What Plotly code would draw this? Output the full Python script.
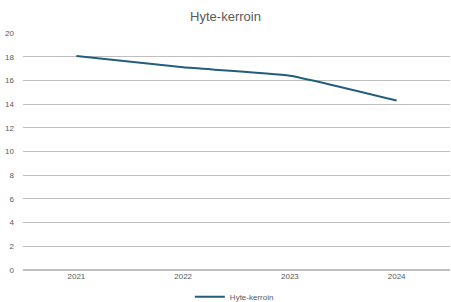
import plotly.graph_objects as go

years = ["2021", "2022", "2023", "2024"]
hyte = [18.05, 17.1, 16.4, 14.3]
y_ticks = [0, 2, 4, 6, 8, 10, 12, 14, 16, 18, 20]

fig = go.Figure()
fig.add_trace(go.Scatter(
    x=years, y=hyte, mode="lines", name="Hyte-kerroin",
    line=dict(color="#215E7C", width=2, shape="spline", smoothing=0.4),
))

fig.update_layout(
    width=451, height=302,
    margin=dict(l=23, r=1, t=33, b=32, autoexpand=False),
    paper_bgcolor="white", plot_bgcolor="white",
    font=dict(family="Liberation Sans, Arial, sans-serif", color="#595959", size=8),
    title=dict(text="Hyte-kerroin", x=0.5, xanchor="center", y=0.947, yref="container",
               yanchor="middle", font=dict(size=13, color="#595959")),
    showlegend=True,
    legend=dict(orientation="h", x=0.495, xanchor="center", yref="container", y=0.017,
                yanchor="middle", font=dict(size=8, color="#595959"), itemwidth=30),
    xaxis=dict(type="category", range=[-0.5, 3.5], showgrid=False, ticks="", showline=False,
               automargin=False, tickfont=dict(size=8, color="#595959")),
    yaxis=dict(range=[0, 20], tickvals=y_ticks, showgrid=True, gridcolor="#BFBFBF",
               gridwidth=1, zeroline=True, zerolinecolor="#BFBFBF", zerolinewidth=2,
               ticks="", showline=False, automargin=False,
               tickfont=dict(size=8, color="#595959"), ticklabelstandoff=8),
)

fig.write_html("out.html", config={"displayModeBar": False})

with open("out.html", encoding="utf-8") as f:
    html = f.read()
html = html.replace("<head>", "<head><style>html,body{margin:0;padding:0;}</style>", 1)
with open("out.html", "w", encoding="utf-8") as f:
    f.write(html)
